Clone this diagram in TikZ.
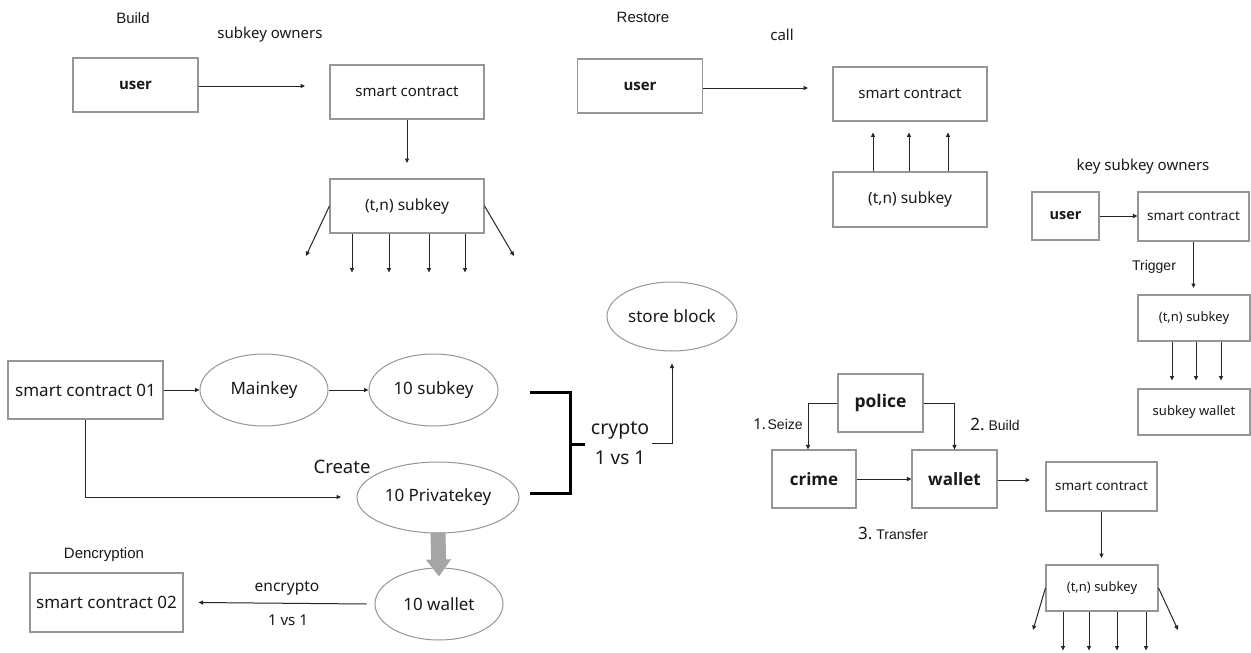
\documentclass[tikz,border=0pt]{standalone}
\usepackage{fontspec}
\setmainfont{Noto Sans}
\newfontfamily\arialf{Liberation Sans}
\newfontfamily\bfam{Open Sans}
\usetikzlibrary{arrows.meta,shapes.geometric}
\newcommand{\fsz}[1]{\fontsize{#1}{#1}\selectfont}
\newcommand{\stepnum}[2]{{\rmfamily\fsz{17}#1}\hspace{4pt}{\arialf\fsz{14}#2}}
\definecolor{bordergray}{RGB}{150,150,150}
\definecolor{txt}{RGB}{25,25,25}
\definecolor{fatgray}{RGB}{165,165,165}
\tikzset{
  box/.style={draw=bordergray, line width=1.1pt, inner sep=0pt, text=txt, rectangle},
  ell/.style={draw=bordergray, line width=1pt, inner sep=0pt, ellipse, text=txt},
  arr/.style={-{Triangle[length=4.5pt,width=4pt]}, line width=1pt, draw=black!85},
  lbl/.style={inner sep=0pt, text=txt},
  brk/.style={line width=3pt, draw=black},
  bold/.style={font=\bfam\bfseries\fsz{#1}},
}
\begin{document}
\begin{tikzpicture}[x=1pt,y=-1pt]
\useasboundingbox (0,0) rectangle (1251,653);
\fill[white] (0,0) rectangle (1251,653);

% ---------------- Build ----------------
\node[lbl, font=\arialf\fsz{15}] (tbuild) at (133,18) {Build};
\node[lbl, font=\fsz{15}] (tsubown) at (270,35) {subkey owners};
\node[box, minimum width=125pt, minimum height=54pt, bold=15] (user1) at (135.5,85) {user};
\coordinate (b1) at (305,86);
\draw[arr] (user1.east |- b1) -- (b1);
\node[box, minimum width=154pt, minimum height=54pt, font=\fsz{15}] (sc1) at (407,92) {smart contract};
\coordinate (b2) at (407,163);
\draw[arr] (sc1.south) -- (b2);
\node[box, minimum width=154pt, minimum height=54pt, font=\fsz{15.5}] (tk1) at (407,206) {(t,n) subkey};
\coordinate (b3) at (306,256);
\coordinate (b4) at (514,256);
\draw[arr] (tk1.west) -- (b3);
\draw[arr] (tk1.east) -- (b4);
\foreach \dx in {-55,-18,22,58}
  \draw[arr] ([xshift=\dx pt]tk1.south) -- ([xshift=\dx pt, yshift=-39pt]tk1.south);

% ---------------- Restore ----------------
\node[lbl, font=\arialf\fsz{15}] (trestore) at (643,17) {Restore};
\node[lbl, font=\fsz{15}] (tcall) at (782,35) {call};
\node[box, minimum width=125pt, minimum height=54pt, bold=15] (user2) at (640,86) {user};
\coordinate (r1) at (808,88);
\draw[arr] (user2.east |- r1) -- (r1);
\node[box, minimum width=154pt, minimum height=54pt, font=\fsz{15}] (sc2) at (910,94) {smart contract};
\node[box, minimum width=154pt, minimum height=55pt, font=\fsz{15.5}] (tk2) at (910,199.5) {(t,n) subkey};
\foreach \dx in {-37,-1,38}
  \draw[arr] ([xshift=\dx pt]tk2.north) -- ([xshift=\dx pt, yshift=39pt]tk2.north);

% ---------------- key subkey owners ----------------
\node[lbl, font=\fsz{15}] (tkso) at (1143,167) {key subkey owners};
\node[box, minimum width=67pt, minimum height=48pt, bold=14.5] (user3) at (1065.5,216) {user};
\node[box, minimum width=111pt, minimum height=49pt, font=\fsz{13.5}] (sc3) at (1193.5,216.5) {smart contract};
\draw[arr] (user3.east) -- (sc3.west |- user3.east);
\coordinate (k1) at (1193.5,288);
\draw[arr] (sc3.south) -- (k1);
\node[lbl, font=\arialf\fsz{14}] (ttrig) at (1154,267) {Trigger};
\node[box, minimum width=112pt, minimum height=46pt, font=\fsz{13}] (tk3) at (1194,318) {(t,n) subkey};
\foreach \dx in {-22,2,27}
  \draw[arr] ([xshift=\dx pt]tk3.south) -- ([xshift=\dx pt, yshift=-39pt]tk3.south);
\node[box, minimum width=112pt, minimum height=46pt, font=\fsz{13}] (sw) at (1194,412) {subkey wallet};

% ---------------- bottom left ----------------
\node[box, minimum width=155pt, minimum height=58pt, font=\fsz{17}] (sc01) at (85.5,390) {smart contract 01};
\node[ell, minimum width=128pt, minimum height=72pt, font=\fsz{17}] (mk) at (264,390) {Mainkey};
\node[ell, minimum width=129pt, minimum height=72pt, font=\fsz{17}] (ts) at (433.5,390) {10 subkey};
\draw[arr] (sc01.east) -- (mk.west);
\draw[arr] (mk.east) -- (ts.west);
\node[ell, minimum width=162pt, minimum height=71pt, font=\fsz{17}] (pk) at (438,497.5) {10 Privatekey};
\coordinate (c1) at (341,497);
\draw[arr] (sc01.south) |- (c1);
\node[lbl, font=\fsz{18.5}] (tcreate) at (342,467) {Create};
\node[ell, minimum width=128pt, minimum height=72pt, font=\fsz{17}] (wal) at (439,604) {10 wallet};
\draw[line width=15pt, draw=fatgray, -{Triangle[length=17pt,width=24pt]}] ([yshift=1pt]pk.south) -- ([yshift=-9pt]wal.north);
\node[lbl, font=\arialf\fsz{15}] (tdenc) at (104,555) {Dencryption};
\node[box, minimum width=153pt, minimum height=59pt, font=\fsz{17}] (sc02) at (106.5,602.5) {smart contract 02};
\draw[arr] ([xshift=-8pt]wal.west) -- ([xshift=15pt]sc02.east);
\node[lbl, font=\fsz{15.5}] (tenc) at (287,588) {encrypto};
\node[lbl, font=\fsz{15}] (tenc2) at (288,620) {1 vs 1};

% ---------------- store block / bracket ----------------
\node[ell, minimum width=130pt, minimum height=69pt, font=\fsz{17}] (sb) at (672,316.5) {store block};
\draw[brk] (530,392) -- (570,392) -- (570,493) -- (530,493);
\draw[brk] (570,444) -- (585,444);
\node[lbl, font=\fsz{19.5}] (tcrypto) at (620,430) {crypto};
\node[lbl, font=\fsz{19}] (tcrypto2) at (620,458) {1 vs 1};
\draw[arr] (652,443) -| ([yshift=-12pt]sb.south);

% ---------------- police ----------------
\node[box, minimum width=85pt, minimum height=58pt, bold=17.5] (police) at (880.5,403) {police};
\node[box, minimum width=84pt, minimum height=58pt, bold=17] (crime) at (814,479) {crime};
\node[box, minimum width=85pt, minimum height=58pt, bold=17] (wallet) at (954.5,479) {wallet};
\draw[arr] (police.west) -| ([xshift=-6pt]crime.north);
\draw[arr] (police.east) -| (wallet.north);
\node[lbl, text depth=0pt, anchor=base] (tseize) at (778,429) {{\fsz{15}1.}\,{\arialf\fsz{14}Seize}};
\node[lbl, text depth=0pt, anchor=base] (tbuild2) at (995,430) {\stepnum{2.}{Build}};
\node[lbl, text depth=0pt, anchor=base] (ttransfer) at (893,539) {\stepnum{3.}{Transfer}};
\draw[arr] (crime.east) -- (wallet.west);
\coordinate (w1) at (1030,480);
\draw[arr] (wallet.east |- w1) -- (w1);
\node[box, minimum width=111pt, minimum height=49pt, font=\fsz{13.5}] (sc4) at (1101.5,486.5) {smart contract};
\coordinate (w2) at (1101.5,558);
\draw[arr] (sc4.south) -- (w2);
\node[box, minimum width=112pt, minimum height=46pt, font=\fsz{13}] (tk4) at (1102,588) {(t,n) subkey};
\coordinate (w3) at (1033,630);
\coordinate (w4) at (1178,630);
\draw[arr] (tk4.west) -- (w3);
\draw[arr] (tk4.east) -- (w4);
\foreach \dx in {-39,-13,15,44}
  \draw[arr] ([xshift=\dx pt]tk4.south) -- ([xshift=\dx pt, yshift=-39pt]tk4.south);
\end{tikzpicture}
\end{document}
